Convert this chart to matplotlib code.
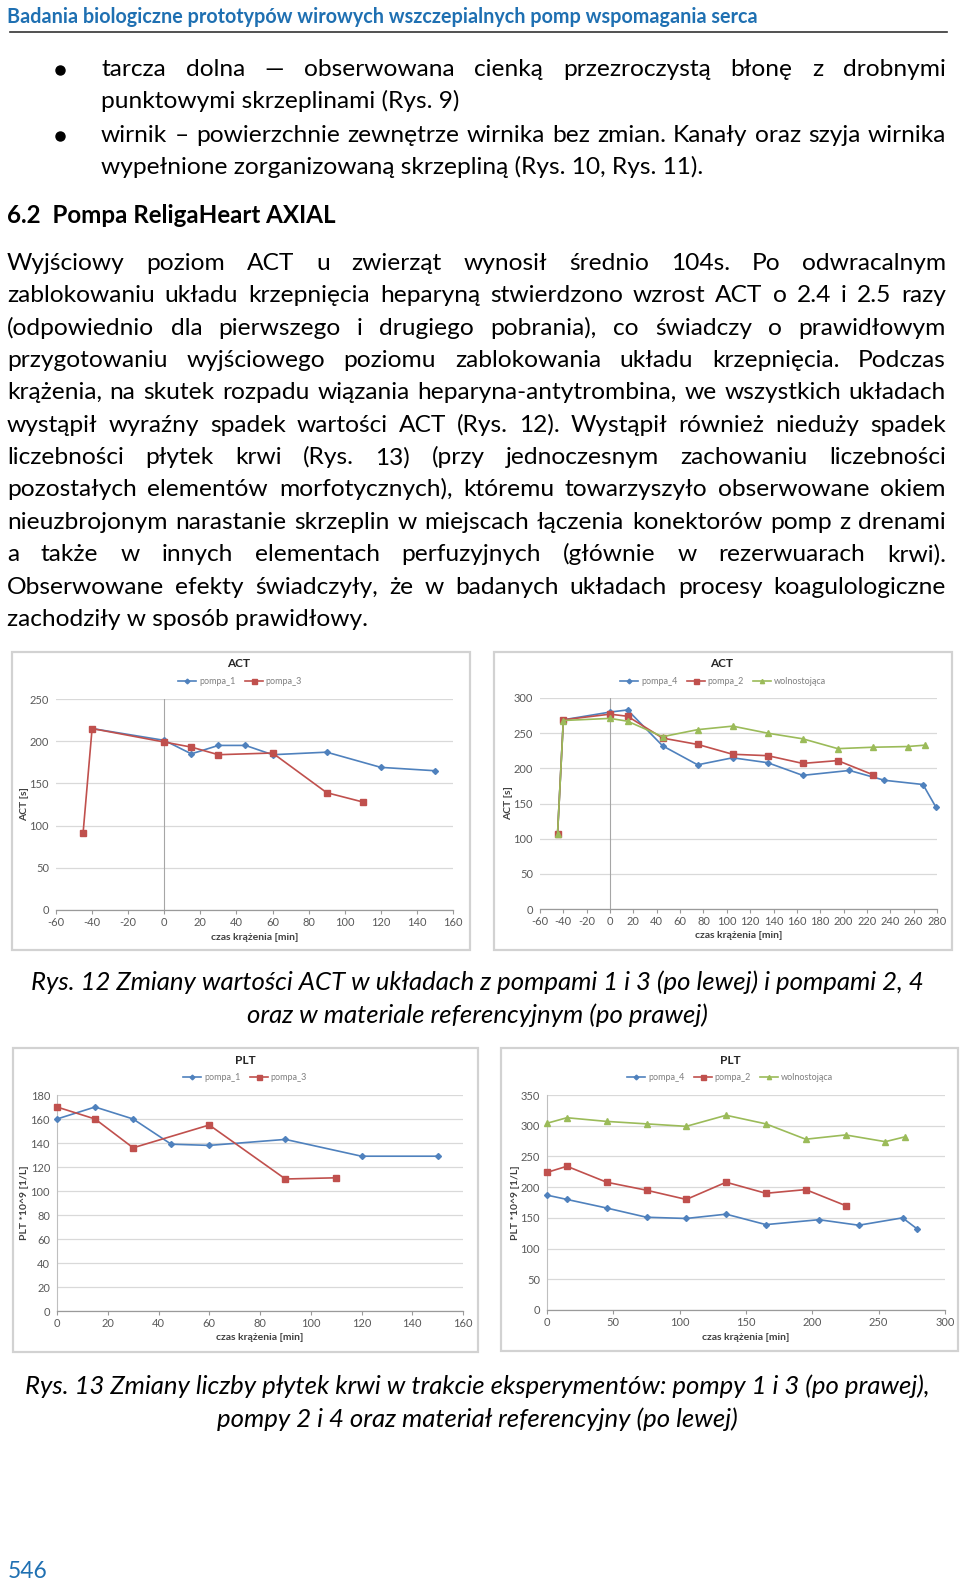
import matplotlib
matplotlib.use("Agg")
import matplotlib.pyplot as plt
from matplotlib.patches import Rectangle

W, H = 960, 1584
FONT = "Lato"
HEAD_BLUE = "#1f70b2"

# ---- chart data ----
act1_pompa1_t = [-40, 0, 15, 30, 45, 60, 90, 120, 150]
act1_pompa1 = [215, 201, 185, 195, 195, 184, 187, 169, 165]
act1_pompa3_t = [-45, -40, 0, 15, 30, 60, 90, 110]
act1_pompa3 = [91, 215, 199, 193, 184, 186, 139, 128]

act2_pompa4_t = [-45, -40, 0, 15, 45, 75, 105, 135, 165, 205, 235, 268, 279]
act2_pompa4 = [106, 269, 280, 283, 232, 205, 215, 208, 190, 197, 183, 177, 145]
act2_pompa2_t = [-45, -40, 0, 15, 45, 75, 105, 135, 165, 195, 225]
act2_pompa2 = [106, 269, 277, 274, 243, 234, 220, 218, 207, 211, 191]
act2_wolno_t = [-45, -40, 0, 15, 45, 75, 105, 135, 165, 195, 225, 255, 270]
act2_wolno = [106, 268, 271, 267, 245, 255, 260, 250, 242, 228, 230, 231, 233]

plt1_pompa1_t = [0, 15, 30, 45, 60, 90, 120, 150]
plt1_pompa1 = [160, 170, 160, 139, 138, 143, 129, 129]
plt1_pompa3_t = [0, 15, 30, 60, 90, 110]
plt1_pompa3 = [170, 160, 136, 155, 110, 111]

plt2_pompa4_t = [0, 15, 45, 75, 105, 135, 165, 205, 235, 268, 279]
plt2_pompa4 = [187, 180, 166, 151, 149, 156, 139, 147, 138, 150, 132]
plt2_pompa2_t = [0, 15, 45, 75, 105, 135, 165, 195, 225]
plt2_pompa2 = [224, 234, 208, 195, 180, 208, 190, 196, 170]
plt2_wolno_t = [0, 15, 45, 75, 105, 135, 165, 195, 225, 255, 270]
plt2_wolno = [304, 313, 307, 303, 299, 317, 303, 278, 285, 274, 282]

# ---- page text ----
header = "Badania biologiczne prototypów wirowych wszczepialnych pomp wspomagania serca"
bullet_lines = [
    "tarcza dolna — obserwowana cienką przezroczystą błonę z drobnymi",
    "punktowymi skrzeplinami (Rys. 9)",
    "wirnik – powierzchnie zewnętrze wirnika bez zmian. Kanały oraz szyja wirnika",
    "wypełnione zorganizowaną skrzepliną (Rys. 10, Rys. 11).",
]
heading = "6.2  Pompa ReligaHeart AXIAL"
paragraph = [
    "Wyjściowy poziom ACT u zwierząt wynosił średnio 104s. Po odwracalnym",
    "zablokowaniu układu krzepnięcia heparyną stwierdzono wzrost ACT o 2.4 i 2.5 razy",
    "(odpowiednio dla pierwszego i drugiego pobrania), co świadczy o prawidłowym",
    "przygotowaniu wyjściowego poziomu zablokowania układu krzepnięcia. Podczas",
    "krążenia, na skutek rozpadu wiązania heparyna-antytrombina, we wszystkich układach",
    "wystąpił wyraźny spadek wartości ACT (Rys. 12). Wystąpił również nieduży spadek",
    "liczebności płytek krwi (Rys. 13) (przy jednoczesnym zachowaniu liczebności",
    "pozostałych elementów morfotycznych), któremu towarzyszyło obserwowane okiem",
    "nieuzbrojonym narastanie skrzeplin w miejscach łączenia konektorów pomp z drenami",
    "a także w innych elementach perfuzyjnych (głównie w rezerwuarach krwi).",
    "Obserwowane efekty świadczyły, że w badanych układach procesy koagulologiczne",
    "zachodziły w sposób prawidłowy.",
]
caption12 = ["Rys. 12 Zmiany wartości ACT w układach z pompami 1 i 3 (po lewej) i pompami 2, 4",
             "oraz w materiale referencyjnym (po prawej)"]
caption13 = ["Rys. 13 Zmiany liczby płytek krwi w trakcie eksperymentów: pompy 1 i 3 (po prawej),",
             "pompy 2 i 4 oraz materiał referencyjny (po lewej)"]
page_no = "546"

plt.rcParams["font.family"] = [FONT, "DejaVu Sans"]
plt.rcParams["axes.unicode_minus"] = False

fig = plt.figure(figsize=(W / 100, H / 100), dpi=100)
fig.patch.set_facecolor("white")
renderer = fig.canvas.get_renderer()


def fx(x):
    return x / W


def fy(y):
    return 1 - y / H


def width_of(s, **kw):
    t = fig.text(0, 0, s, **kw)
    w = t.get_window_extent(renderer).width
    t.remove()
    return w


def fit_size(s, target, **kw):
    return 10 * target / width_of(s, fontsize=10, **kw)


def put_line(s, y, x0, x1=None, justify=False, **kw):
    if not justify:
        fig.text(fx(x0), fy(y), s, va="baseline", **kw)
        return
    words = s.split()
    ws = [width_of(w, **kw) for w in words]
    gap = (x1 - x0 - sum(ws)) / (len(words) - 1)
    x = x0
    for w, wd in zip(words, ws):
        fig.text(fx(x), fy(y), w, va="baseline", **kw)
        x += wd + gap


# header
hs = fit_size(header, 750, fontweight="bold")
fig.text(fx(7), fy(23), header, va="baseline", fontsize=hs, fontweight="bold", color=HEAD_BLUE)
fig.add_artist(plt.Line2D([fx(10), fx(947)], [fy(32), fy(32)], color="#333333", lw=1.2))

# body text
body_size = (fit_size(paragraph[-1], 358) + fit_size(bullet_lines[1], 361)) / 2
body = dict(fontsize=body_size, color="black")

bullet_base = [76, 108, 142, 174]
for i, line in enumerate(bullet_lines):
    put_line(line, bullet_base[i], 101, 946, justify=(i % 2 == 0), **body)
fig.add_artist(plt.Line2D([fx(60), fx(60)], [fy(70), fy(136)], ls="none", marker="o",
                          ms=6.5, color="black"))

hd = fit_size(heading, 329, fontweight="bold")
fig.text(fx(7), fy(223), heading, va="baseline", fontsize=hd, fontweight="bold")

for i, line in enumerate(paragraph):
    put_line(line, 270 + i * 32.35, 7, 946, justify=(i < len(paragraph) - 1), **body)

# captions
cap_size = fit_size(caption12[0], 892, style="italic")
for lines, ys in ((caption12, (990, 1023)), (caption13, (1394, 1427))):
    for line, yb in zip(lines, ys):
        fig.text(fx(477), fy(yb), line, ha="center", va="baseline",
                 fontsize=cap_size, style="italic")

fig.text(fx(8), fy(1578), page_no, va="baseline", color=HEAD_BLUE,
         fontsize=fit_size(page_no, 40))

# ---- charts ----
C_BLUE, C_RED, C_GREEN = "#4f81bd", "#c0504d", "#9bbb59"


def chart(box, plot, title, title_xy, legend_xy, series, xlim, xticks, ylim, yticks,
          ylabel, ylabel_x, xlabel_y, cross0):
    bx0, by0, bx1, by1 = box
    fig.add_artist(Rectangle((fx(bx0), fy(by1)), (bx1 - bx0) / W, (by1 - by0) / H,
                             transform=fig.transFigure, fill=False,
                             edgecolor="#d2d2d2", lw=1.6))
    px0, py0, px1, py1 = plot
    ax = fig.add_axes([fx(px0), fy(py1), (px1 - px0) / W, (py1 - py0) / H])
    for name, t, v, color, marker, ms in series:
        ax.plot(t, v, color=color, marker=marker, ms=ms, lw=1.2, mec=color, mfc=color,
                label=name, clip_on=False, zorder=3)
    ax.set_xlim(xlim)
    ax.set_ylim(ylim)
    ax.set_xticks(xticks)
    ax.set_yticks(yticks)
    ax.grid(axis="y", color="#d9d9d9", lw=0.9)
    ax.set_axisbelow(True)
    for s in ("top", "right", "left"):
        ax.spines[s].set_visible(False)
    ax.spines["bottom"].set_color("#9a9a9a")
    ax.spines["bottom"].set_linewidth(0.9)
    if cross0:
        ax.axvline(0, color="#a6a6a6", lw=0.8, zorder=1)
    else:
        ax.spines["left"].set_visible(True)
        ax.spines["left"].set_color("#bfbfbf")
        ax.spines["left"].set_linewidth(0.8)
    ax.tick_params(axis="x", length=3, color="#9a9a9a", labelsize=8,
                   labelcolor="#595959", pad=2)
    ax.tick_params(axis="y", length=0, labelsize=8, labelcolor="#595959", pad=5)
    fig.text(fx(title_xy[0]), fy(title_xy[1]), title, ha="center", va="center",
             fontsize=8.5, fontweight="bold", color="#262626")
    ax.legend(loc="center", bbox_to_anchor=(fx(legend_xy[0]), fy(legend_xy[1])),
              bbox_transform=fig.transFigure, ncol=len(series), frameon=False,
              fontsize=6.5, handlelength=2.0, columnspacing=1.0, handletextpad=0.3,
              labelcolor="#7f7f7f", markerscale=0.8)
    fig.text(fx((px0 + px1) / 2), fy(xlabel_y), "czas krążenia [min]", ha="center",
             va="center", fontsize=7.5, fontweight="bold", color="#404040")
    fig.text(fx(ylabel_x), fy((py0 + py1) / 2), ylabel, ha="center", va="center",
             rotation=90, fontsize=7.5, fontweight="bold", color="#404040")
    return ax


chart((12, 652, 470, 950), (56, 699, 453, 910), "ACT", (239, 664), (240, 682),
      [("pompa_1", act1_pompa1_t, act1_pompa1, C_BLUE, "D", 3.0),
       ("pompa_3", act1_pompa3_t, act1_pompa3, C_RED, "s", 4.5)],
      (-60, 160), range(-60, 161, 20), (0, 250), range(0, 251, 50),
      "ACT [s]", 25, 937, True)

chart((494, 652, 952, 950), (540, 698, 937, 909), "ACT", (722, 664), (723, 682),
      [("pompa_4", act2_pompa4_t, act2_pompa4, C_BLUE, "D", 3.0),
       ("pompa_2", act2_pompa2_t, act2_pompa2, C_RED, "s", 4.5),
       ("wolnostojąca", act2_wolno_t, act2_wolno, C_GREEN, "^", 3.8)],
      (-60, 280), range(-60, 281, 20), (0, 300), range(0, 301, 50),
      "ACT [s]", 509, 936, True)

chart((13, 1048, 478, 1352), (57, 1095, 463, 1311), "PLT", (245, 1060), (245, 1078),
      [("pompa_1", plt1_pompa1_t, plt1_pompa1, C_BLUE, "D", 3.0),
       ("pompa_3", plt1_pompa3_t, plt1_pompa3, C_RED, "s", 4.5)],
      (0, 160), range(0, 161, 20), (0, 180), range(0, 181, 20),
      "PLT *10^9 [1/L]", 25, 1338, False)

chart((501, 1048, 958, 1351), (547, 1095, 945, 1310), "PLT", (730, 1060), (730, 1078),
      [("pompa_4", plt2_pompa4_t, plt2_pompa4, C_BLUE, "D", 3.0),
       ("pompa_2", plt2_pompa2_t, plt2_pompa2, C_RED, "s", 4.5),
       ("wolnostojąca", plt2_wolno_t, plt2_wolno, C_GREEN, "^", 3.8)],
      (0, 300), range(0, 301, 50), (0, 350), range(0, 351, 50),
      "PLT *10^9 [1/L]", 515, 1338, False)

fig.savefig("out.png", dpi=100)
